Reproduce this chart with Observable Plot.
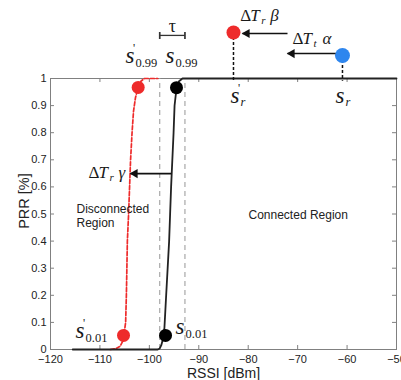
<!DOCTYPE html>
<html><head><meta charset="utf-8">
<script src="https://cdn.jsdelivr.net/npm/d3@7"></script>
<script src="https://cdn.jsdelivr.net/npm/@observablehq/plot@0.6"></script>
<style>body{margin:0;background:#fff}svg{display:block}</style>
</head><body><div id="chart"></div>
<script>
// ---- data ----
const xTicks = [-120, -110, -100, -90, -80, -70, -60, -50];
const yTicks = [0, 0.1, 0.2, 0.3, 0.4, 0.5, 0.6, 0.7, 0.8, 0.9, 1];

const blackX = [-115.5, -98.3, -97.9, -97.6, -97.3, -96.95, -96.6, -96.3, -96.0, -95.8, -95.6, -95.35, -95.1, -94.9, -94.5, -94.0, -93.3, -50];
const blackY = [0, 0, 0.004, 0.015, 0.035, 0.08, 0.2, 0.3, 0.4, 0.5, 0.6, 0.7, 0.8, 0.9, 0.965, 0.99, 1, 1];

const redX = [-107.9, -106.8, -105.9, -105.4, -105.1, -104.8, -104.65, -104.55, -104.45, -104.2, -104.0, -103.8, -103.5, -103.2, -102.8, -102.3, -101.7, -101.0, -98.3];
const redY = [0, 0.003, 0.012, 0.03, 0.06, 0.1, 0.2, 0.3, 0.4, 0.5, 0.6, 0.7, 0.8, 0.88, 0.93, 0.965, 0.99, 1, 1];

// threshold points (s_0.01, s_0.99)
const blackDotX = [-96.73, -94.51];
const blackDotY = [0.052, 0.966];
const redDotX = [-105.23, -102.26];
const redDotY = [0.052, 0.967];

// s_r points above the plot
const srRedX = -82.98, srRedY = 1.17;
const srBlueX = -60.93, srBlueY = 1.085;

// tau boundaries
const tauX = [-97.9, -92.8];
const tauY = 1.159;

// arrows
const arrowX1 = [-72.05, -62.34, -95.52];
const arrowX2 = [-81.16, -72.05, -103.82];
const arrowY = [1.166, 1.092, 0.649];

// label anchors
const sLabelX = [-104.83, -96.73, -114.94, -94.7, -83.6, -62.35];
const sLabelY = [1.059, 1.059, 0.041, 0.059, 0.911, 0.911];
const sSub = ["0.99", "0.99", "0.01", "0.01", "r", "r"];
const sPrime = [true, false, true, false, true, false];

const dLabelX = [-81.59, -71.04, -112.31];
const dLabelY = [1.214, 1.129, 0.631];
const dSub = ["r", "t", "r"];
const dGreek = ["β", "α", "γ"];

const regionText = ["Disconnected\nRegion", "Connected Region"];
const regionX = [-114.74, -79.94];
const regionY = [0.494, 0.498];

// ---- build ----
const serif = "'Liberation Serif', 'Times New Roman', serif";
const sans = "'Liberation Sans', Arial, Helvetica, sans-serif";
const ink = "#1a1a1a";
const RED = "#ee2b2b", BLUE = "#2e86ee";

const black = blackX.map((x, i) => ({x, y: blackY[i]}));
const red = redX.map((x, i) => ({x, y: redY[i]}));
const blackDots = blackDotX.map((x, i) => ({x, y: blackDotY[i]}));
const redDots = redDotX.map((x, i) => ({x, y: redDotY[i]}));
const arrows = arrowX1.map((x1, i) => ({x1, x2: arrowX2[i], y: arrowY[i]}));
const sLabels = sLabelX.map((x, i) => ({x, y: sLabelY[i], sub: sSub[i], prime: sPrime[i]}));
const dLabels = dLabelX.map((x, i) => ({x, y: dLabelY[i], sub: dSub[i], greek: dGreek[i]}));
const regions = regionText.map((t, i) => ({t, x: regionX[i], y: regionY[i]}));

const T = (data, text, o) => Plot.text(data, {x: "x", y: "y", text, textAnchor: "start", lineAnchor: "bottom", fontFamily: serif, fill: ink, ...o});

const xTickLen = 4 / 271, yTickLen = 4 / 4.943;

const chart = Plot.plot({
  width: 401, height: 380,
  marginLeft: 50, marginRight: 5, marginTop: 78, marginBottom: 31,
  x: {domain: [-120, -50]},
  y: {domain: [0, 1]},
  style: {fontFamily: sans, fontSize: "11px", color: "#222", background: "#fff"},
  marks: [
    Plot.frame({stroke: "#808080"}),
    // inward ticks
    Plot.ruleX(xTicks, {x: d => d, y1: 0, y2: xTickLen, stroke: "#808080"}),
    Plot.ruleX(xTicks, {x: d => d, y1: 1, y2: 1 - xTickLen, stroke: "#808080"}),
    Plot.ruleY(yTicks, {y: d => d, x1: -120, x2: -120 + yTickLen, stroke: "#808080"}),
    Plot.ruleY(yTicks, {y: d => d, x1: -50, x2: -50 - yTickLen, stroke: "#808080"}),
    Plot.axisX({ticks: xTicks, tickSize: 0, tickPadding: 6, label: null, fill: "#222"}),
    Plot.axisY({ticks: yTicks, tickSize: 0, tickPadding: 4, label: null, fill: "#222", tickFormat: d => String(d)}),
    Plot.text(["RSSI [dBm]"], {frameAnchor: "bottom", textAnchor: "middle", lineAnchor: "bottom", dy: 28, fontSize: 14, fontFamily: sans, fill: "#222"}),
    Plot.text(["PRR [%]"], {frameAnchor: "left", textAnchor: "middle", lineAnchor: "bottom", rotate: -90, dx: -22, dy: -13, fontSize: 14.5, fontFamily: sans, fill: "#222"}),
    // tau guide lines
    Plot.ruleX(tauX, {x: d => d, y1: 0, y2: 1, stroke: "#a0a0a0", strokeDasharray: "5,4", strokeWidth: 1.1}),
    Plot.link([{x1: tauX[0], x2: tauX[1], y: tauY}], {x1: "x1", x2: "x2", y1: "y", y2: "y", stroke: "#333", strokeWidth: 1.3, markerStart: "tick", markerEnd: "tick"}),
    T([{x: (tauX[0] + tauX[1]) / 2, y: 1.17}], () => "τ", {textAnchor: "middle", fontSize: 18}),
    // curves
    Plot.line(red, {x: "x", y: "y", stroke: RED, strokeWidth: 1.7, strokeDasharray: "4,2", curve: "linear"}),
    Plot.line(black, {x: "x", y: "y", stroke: "#222", strokeWidth: 1.8, curve: "linear"}),
    Plot.dot(redDots, {x: "x", y: "y", r: 6.5, fill: RED}),
    Plot.dot(blackDots, {x: "x", y: "y", r: 6.5, fill: "#000"}),
    // s_r droplines and points
    Plot.ruleX([{x: srRedX, y: srRedY}, {x: srBlueX, y: srBlueY}], {x: "x", y1: "y", y2: 0.99, stroke: "#111", strokeWidth: 1.5, strokeDasharray: "3,2"}),
    Plot.dot([{x: srRedX, y: srRedY}], {x: "x", y: "y", r: 7, fill: RED}),
    Plot.dot([{x: srBlueX, y: srBlueY}], {x: "x", y: "y", r: 7.5, fill: BLUE}),
    // arrows
    Plot.link(arrows, {x1: "x1", x2: "x2", y1: "y", y2: "y", stroke: "#111", strokeWidth: 1.6}),
    Plot.dot(arrows, {x: "x2", y: "y", symbol: "triangle", r: 3.4, rotate: -90, fill: "#111", dx: 4.5}),
    // s labels
    T(sLabels, () => "s", {fontSize: 23, fontStyle: "italic"}),
    T(sLabels.filter(d => d.sub !== "r"), "sub", {fontSize: 12.5, dx: 10, dy: 4}),
    T(sLabels.filter(d => d.sub === "r"), "sub", {fontSize: 12.5, dx: 10, dy: 3, fontStyle: "italic"}),
    T(sLabels.filter(d => d.prime), () => "'", {fontSize: 12, dx: 7.5, dy: -11}),
    // ΔT labels
    T(dLabels, () => "Δ", {fontSize: 17}),
    T(dLabels, () => "T", {fontSize: 17, fontStyle: "italic", dx: 10}),
    T(dLabels, "sub", {fontSize: 11, fontStyle: "italic", dx: 21, dy: 3}),
    T(dLabels, "greek", {fontSize: 17, fontStyle: "italic", dx: 30}),
    // region text
    Plot.text(regions, {x: "x", y: "y", text: "t", textAnchor: "start", fontSize: 12, lineHeight: 1.17, fontFamily: sans, fill: "#222"})
  ]
});
document.getElementById("chart").appendChild(chart);
</script>
</body></html>
